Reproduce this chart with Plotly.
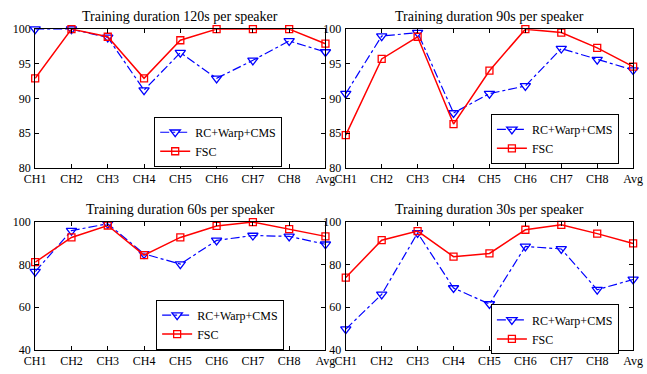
import plotly.graph_objects as go

categories = ["CH1", "CH2", "CH3", "CH4", "CH5", "CH6", "CH7", "CH8", "Avg"]

titles = ["Training duration 120s per speaker", "Training duration 90s per speaker",
          "Training duration 60s per speaker", "Training duration 30s per speaker"]

rc_120 = [100, 100, 98.8, 91.2, 96.6, 92.9, 95.5, 98.3, 96.7]
fsc_120 = [92.9, 100, 98.9, 92.9, 98.4, 100, 100, 100, 97.9]

rc_90 = [90.7, 99.0, 99.5, 87.9, 90.7, 91.8, 97.2, 95.6, 94.1]
fsc_90 = [84.7, 95.7, 98.9, 86.3, 94.0, 100, 99.5, 97.3, 94.6]

rc_60 = [76.6, 95.8, 99.0, 84.9, 80.1, 91.2, 93.5, 93.1, 89.4]
fsc_60 = [81.0, 92.6, 98.2, 84.3, 92.6, 98.0, 99.8, 96.5, 93.1]

rc_30 = [49.6, 65.9, 94.7, 68.9, 61.4, 88.4, 87.2, 68.1, 72.9]
fsc_30 = [73.8, 91.3, 95.6, 83.6, 85.1, 96.2, 98.5, 94.4, 89.8]

yranges = [[80, 100], [80, 100], [40, 100], [40, 100]]
ydticks = [5, 5, 20, 20]

W, H = 647, 374
panels_px = [  # left, right, top, bottom in pixels
    (25, 325, 23, 167),
    (346, 643, 23, 167),
    (25, 325, 223, 356),
    (346, 643, 223, 356),
]
legend_px = [(148, 114), (496, 111), (150, 304), (496, 309)]
title_y_px = [10, 10, 210, 210]

series = [(rc_120, fsc_120), (rc_90, fsc_90), (rc_60, fsc_60), (rc_30, fsc_30)]

FONT = "Times New Roman, Liberation Serif, serif"
fig = go.Figure()
layout = dict(
    width=W, height=H, margin=dict(l=0, r=0, t=0, b=0),
    paper_bgcolor="white", plot_bgcolor="white",
    font=dict(family=FONT, size=12, color="black"),
    annotations=[],
)

for i, (rc, fsc) in enumerate(series):
    k = "" if i == 0 else str(i + 1)
    leg = "legend" if i == 0 else f"legend{i + 1}"
    fig.add_trace(go.Scatter(
        x=categories, y=rc, mode="lines+markers", name="RC+Warp+CMS",
        xaxis="x" + k, yaxis="y" + k, legend=leg, cliponaxis=False,
        line=dict(color="#0000ff", width=1.2, dash="dashdot"),
        marker=dict(symbol="triangle-down-open", size=9, color="#0000ff", line=dict(width=1.3)),
    ))
    fig.add_trace(go.Scatter(
        x=categories, y=fsc, mode="lines+markers", name="FSC",
        xaxis="x" + k, yaxis="y" + k, legend=leg, cliponaxis=False,
        line=dict(color="#ff0000", width=1.5),
        marker=dict(symbol="square-open", size=7, color="#ff0000", line=dict(width=1.3)),
    ))
    l, r, t, b = panels_px[i]
    xd = [l / W, r / W]
    yd = [1 - b / H, 1 - t / H]
    layout["xaxis" + k] = dict(
        domain=xd, anchor="y" + k, type="category", range=[0, len(categories) - 1],
        showline=True, linecolor="black", linewidth=1, mirror="ticks",
        ticks="inside", ticklen=4, tickcolor="black", showgrid=False, zeroline=False,
        tickfont=dict(family=FONT, size=12, color="black"), ticklabelstandoff=0,
    )
    layout["yaxis" + k] = dict(
        domain=yd, anchor="x" + k, range=yranges[i], dtick=ydticks[i], tick0=0,
        showline=True, linecolor="black", linewidth=1, mirror="ticks",
        ticks="inside", ticklen=4, tickcolor="black", showgrid=False, zeroline=False,
        tickfont=dict(family=FONT, size=12, color="black"), ticklabelstandoff=1,
    )
    lx, ly = legend_px[i]
    layout[leg] = dict(
        x=lx / W, y=1 - ly / H, xanchor="left", yanchor="top",
        xref="paper", yref="paper",
        bgcolor="white", bordercolor="black", borderwidth=1,
        font=dict(family=FONT, size=12, color="black"),
        tracegroupgap=0, itemwidth=30,
    )
    layout["annotations"].append(dict(
        text=titles[i], x=(l + r) / 2 / W, y=1 - title_y_px[i] / H,
        xref="paper", yref="paper", xanchor="center", yanchor="middle",
        showarrow=False, font=dict(family=FONT, size=14, color="black"),
    ))

fig.update_layout(**layout)
fig.write_html("out.html")
